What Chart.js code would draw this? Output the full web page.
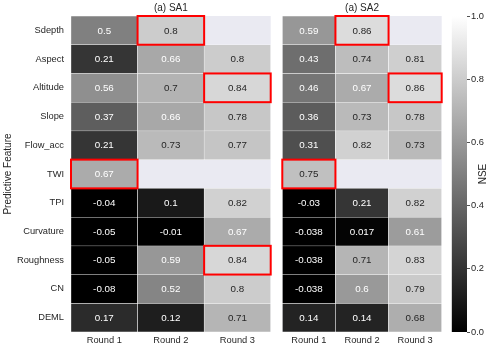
<!DOCTYPE html>
<html><head><meta charset="utf-8">
<script src="https://cdn.jsdelivr.net/npm/chart.js@4/dist/chart.umd.min.js"></script>
<style>
html,body{margin:0;padding:0;background:#fff;}
#wrap{position:relative;width:500px;height:349px;}
canvas{position:absolute;left:0;top:0;}
</style></head><body>
<div id="wrap">
<canvas id="c1" width="500" height="349"></canvas>
<canvas id="c2" width="500" height="349"></canvas>
<canvas id="c3" width="500" height="349"></canvas>
</div>
<script>
// ---------------- data ----------------
const features = ['Sdepth','Aspect','Altitude','Slope','Flow_acc','TWI','TPI','Curvature','Roughness','CN','DEML'];
const rounds = ['Round 1','Round 2','Round 3'];

const sa1Round1 = [0.5, 0.21, 0.56, 0.37, 0.21, 0.67, -0.04, -0.05, -0.05, -0.08, 0.17];
const sa1Round2 = [0.8, 0.66, 0.7, 0.66, 0.73, null, 0.1, -0.01, 0.59, 0.52, 0.12];
const sa1Round3 = [null, 0.8, 0.84, 0.78, 0.77, null, 0.82, 0.67, 0.84, 0.8, 0.71];

const sa2Round1 = [0.59, 0.43, 0.46, 0.36, 0.31, 0.75, -0.03, -0.038, -0.038, -0.038, 0.14];
const sa2Round2 = [0.86, 0.74, 0.67, 0.73, 0.82, null, 0.21, 0.017, 0.71, 0.6, 0.14];
const sa2Round3 = [null, 0.81, 0.86, 0.78, 0.73, null, 0.82, 0.61, 0.83, 0.79, 0.68];

const sa1Highlights = [['Sdepth','Round 2'], ['Altitude','Round 3'], ['TWI','Round 1'], ['Roughness','Round 3']];
const sa2Highlights = [['Sdepth','Round 2'], ['Altitude','Round 3'], ['TWI','Round 1']];

const panelTitles = ['(a) SA1', '(a) SA2'];
const cbarRange = [0, 1];
const cbarLabel = 'NSE';

// ---------------- helpers ----------------
const FONT = "'Liberation Sans', Arial, Helvetica, sans-serif";
const TXT = '#262626';
function grayLevel(v) {
  const t = Math.max(0, Math.min(1, (v - cbarRange[0]) / (cbarRange[1] - cbarRange[0])));
  return Math.min(255, Math.floor(t * 256));
}
function cellColor(v) { const g = grayLevel(v); return `rgb(${g},${g},${g})`; }
function textColor(v) {
  const c = grayLevel(v) / 255;
  const lin = c <= 0.03928 ? c / 12.92 : Math.pow((c + 0.055) / 1.055, 2.4);
  return lin > 0.408 ? TXT : '#ffffff';
}

const bgPlugin = {
  id: 'bgPlugin',
  beforeDatasetsDraw(chart) {
    const a = chart.chartArea, c = chart.ctx;
    c.save(); c.fillStyle = '#eaeaf2'; c.fillRect(a.left, a.top, a.right - a.left, a.bottom - a.top); c.restore();
  }
};

function makePanel(canvasId, cols, highlights, title, padLeft, padRight, showY) {
  const datasets = features.map((f, i) => ({
    label: f,
    data: cols.map(col => col[i] == null ? null : [i, i + 1]),
    backgroundColor: cols.map(col => col[i] == null ? 'rgba(0,0,0,0)' : cellColor(col[i])),
    borderColor: '#ffffff',
    borderWidth: 0.5,
    borderSkipped: false,
    barPercentage: 1,
    categoryPercentage: 1,
    grouped: false
  }));
  const annot = {
    id: 'annot',
    afterDatasetsDraw(chart) {
      const c = chart.ctx;
      c.save();
      c.font = `9.8px ${FONT}`;
      c.textAlign = 'center'; c.textBaseline = 'middle';
      features.forEach((f, i) => {
        const meta = chart.getDatasetMeta(i);
        cols.forEach((col, j) => {
          const v = col[i];
          if (v == null) return;
          const el = meta.data[j];
          c.fillStyle = textColor(v);
          c.fillText(String(v), el.x, (el.y + el.base) / 2 + 0.5);
        });
      });
      c.strokeStyle = '#ff0000'; c.lineWidth = 2;
      highlights.forEach(([f, r]) => {
        const el = chart.getDatasetMeta(features.indexOf(f)).data[rounds.indexOf(r)];
        const top = Math.min(el.y, el.base), h = Math.abs(el.base - el.y);
        c.strokeRect(el.x - el.width / 2, top, el.width, h);
      });
      c.restore();
    }
  };
  return new Chart(document.getElementById(canvasId), {
    type: 'bar',
    data: { labels: rounds, datasets },
    plugins: [bgPlugin, annot],
    options: {
      responsive: false, animation: false,
      layout: { padding: { left: padLeft, right: padRight, top: 0, bottom: 0 } },
      plugins: {
        legend: { display: false }, tooltip: { enabled: false },
        title: { display: true, text: title, fullSize: false, color: TXT,
                 font: { family: FONT, size: 10, weight: 'normal' }, padding: { top: 2, bottom: 2 } }
      },
      scales: {
        x: {
          type: 'category',
          grid: { display: false, drawTicks: false }, border: { display: false },
          ticks: { color: TXT, font: { family: FONT, size: 9.3 }, padding: 3, maxRotation: 0 },
          afterFit(s) { s.height = 17; }
        },
        y: {
          type: 'linear', min: 0, max: features.length, reverse: true,
          display: showY,
          grid: { display: false, drawTicks: false }, border: { display: false },
          afterBuildTicks(s) { s.ticks = features.map((f, i) => ({ value: i + 0.5 })); },
          ticks: { color: TXT, font: { family: FONT, size: 9.3 }, padding: 7, autoSkip: false,
                   callback: (v) => features[Math.floor(v)] },
          title: { display: showY, text: 'Predictive Feature', color: TXT,
                   font: { family: FONT, size: 10 }, padding: { top: 2, bottom: 0 } },
          afterFit(s) { if (showY) s.width = 71; }
        }
      }
    }
  });
}

makePanel('c1', [sa1Round1, sa1Round2, sa1Round3], sa1Highlights, panelTitles[0], 0, 229.3, true);
makePanel('c2', [sa2Round1, sa2Round2, sa2Round3], sa2Highlights, panelTitles[1], 282.3, 58.3, false);

// ---------------- colorbar ----------------
const cbarTitle = {
  id: 'cbarTitle',
  afterDraw(chart) {
    const c = chart.ctx, a = chart.chartArea;
    c.save();
    c.translate(483.5, (a.top + a.bottom) / 2);
    c.rotate(-Math.PI / 2);
    c.font = `10px ${FONT}`; c.fillStyle = TXT;
    c.textAlign = 'center'; c.textBaseline = 'middle';
    c.fillText(cbarLabel, 0, 0);
    c.restore();
  }
};
new Chart(document.getElementById('c3'), {
  type: 'bar',
  data: { labels: [cbarLabel], datasets: [{
    data: [cbarRange.slice()],
    backgroundColor(ctx) {
      const a = ctx.chart.chartArea;
      if (!a) return '#888';
      const g = ctx.chart.ctx.createLinearGradient(0, a.bottom, 0, a.top);
      g.addColorStop(0, '#000000'); g.addColorStop(1, '#ffffff');
      return g;
    },
    borderWidth: 0, barPercentage: 1, categoryPercentage: 1
  }]},
  plugins: [cbarTitle],
  options: {
    responsive: false, animation: false,
    layout: { padding: { left: 451.7, right: 0, top: 16, bottom: 17 } },
    plugins: { legend: { display: false }, tooltip: { enabled: false } },
    scales: {
      x: { display: false },
      y: {
        position: 'right', min: cbarRange[0], max: cbarRange[1],
        grid: { display: true, drawOnChartArea: false, drawTicks: true, tickLength: 3, color: TXT, lineWidth: 0.8 },
        border: { display: false },
        ticks: { stepSize: 0.2, color: TXT, font: { family: FONT, size: 9.3 }, padding: 1,
                 callback: (v) => v.toFixed(1) },
        afterFit(s) { s.width = 33; }
      }
    }
  }
});
</script>
</body></html>
